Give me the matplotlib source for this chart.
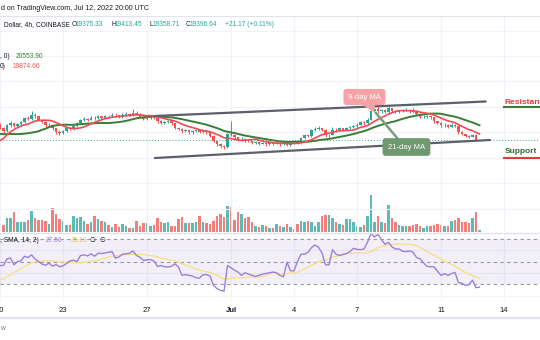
import numpy as np
import pandas as pd
import matplotlib
matplotlib.use("Agg")
import matplotlib.pyplot as plt
import matplotlib.dates as mdates
from matplotlib.patches import Polygon

plt.rcParams['font.family'] = ['Liberation Sans', 'DejaVu Sans']

W, H = 540, 340
UP = '#26a69a'
DOWN = '#ef5350'
GRID = '#f0f3fa'
TEXT = '#131722'

# BTC/USD 4h candles, Jun 19 16:00 .. Jul 12 20:00 (open = previous close)
first_open = 19950
closes = [
    20200, 20550, 20350, 20100, 20550, 20700, 20500, 20650, 20800, 21100,
    21050, 21400, 21250, 20950, 20800, 20550, 20600, 20300, 20050, 19950,
    20100, 20300, 20250, 20500, 20700, 20950, 21050, 21000, 21150, 21100,
    21250, 21150, 21300, 21250, 21400, 21350, 21200, 21400, 21450, 21350,
    21550, 21450, 21200, 21050, 21100, 21300, 21150, 20850, 20750, 20800,
    20900, 20700, 20350, 20250, 20100, 20150, 20000, 20100, 20150, 20050,
    20100, 20000, 19700, 19300, 19100, 18900, 18850, 19850, 19750, 19600,
    19450, 19500, 19350, 19300, 19150, 19200, 19100, 19150, 19050, 19200,
    19100, 19150, 19050, 19200, 19000, 19150, 19200, 19150, 19550, 19750,
    19700, 20150, 20250, 20300, 20200, 19750, 19800, 20200, 20150, 20300,
    20200, 20350, 20400, 20500, 20600, 20800, 20700, 21000, 21700, 21800,
    21650, 21750, 21600, 21900, 21700, 21600, 21650, 21700, 21750, 21650,
    21600, 21450, 21200, 21230, 21250, 21180, 20850, 20750, 20550, 20600,
    20450, 20600, 20500, 20000, 19850, 19700, 19650, 19800, 19375.33, 19396.64,
]
highs = [
    20300, 20650, 20700, 20400, 20650, 20850, 20750, 20750, 20900, 21200,
    21250, 21700, 21500, 21300, 21050, 20850, 20700, 20650, 20350, 20150,
    20200, 20400, 20400, 20600, 20800, 21050, 21200, 21150, 21250, 21300,
    21400, 21300, 21400, 21400, 21500, 21500, 21400, 21500, 21600, 21500,
    21800, 21650, 21500, 21250, 21200, 21400, 21350, 21200, 20950, 20900,
    21000, 20950, 20750, 20450, 20300, 20250, 20200, 20200, 20250, 20200,
    20200, 20150, 20050, 19750, 19350, 19150, 19000, 19950, 20900, 19850,
    19650, 19600, 19550, 19450, 19350, 19300, 19250, 19250, 19200, 19300,
    19250, 19250, 19200, 19300, 19250, 19250, 19300, 19300, 19650, 19850,
    19850, 20250, 20400, 20500, 20350, 20250, 19900, 20450, 20300, 20400,
    20350, 20450, 20500, 20600, 20700, 20900, 20850, 21100, 21850, 21950,
    22500, 21850, 21800, 22050, 21950, 21750, 21750, 21800, 21950, 21800,
    21900, 21650, 21500, 21350, 21350, 21300, 21200, 20900, 20800, 20700,
    20650, 20700, 20650, 20550, 20100, 19900, 19800, 19900, 19850, 19413.45,
]
lows = [
    19900, 20150, 20250, 19950, 20050, 20450, 20400, 20450, 20600, 20750,
    20950, 21000, 21150, 20850, 20700, 20450, 20450, 20200, 19900, 19800,
    19850, 20050, 20150, 20200, 20450, 20650, 20900, 20900, 20950, 21000,
    21050, 21050, 21100, 21150, 21200, 21250, 21100, 21150, 21350, 21250,
    21300, 21350, 21100, 20950, 20950, 21050, 21050, 20750, 20650, 20650,
    20700, 20600, 20250, 20150, 19950, 20000, 19850, 19900, 20000, 19950,
    19950, 19900, 19600, 19200, 18950, 18750, 18650, 18800, 19700, 19450,
    19300, 19350, 19250, 19200, 19050, 19100, 19000, 19050, 18950, 19000,
    19000, 19050, 18950, 19000, 18900, 18950, 19100, 19050, 19100, 19500,
    19600, 19650, 20100, 20150, 20100, 19600, 19650, 19750, 20050, 20100,
    20100, 20150, 20250, 20350, 20450, 20550, 20600, 20650, 20950, 21600,
    21550, 21550, 21500, 21550, 21600, 21500, 21550, 21600, 21650, 21550,
    21500, 21350, 21100, 21100, 21150, 21050, 20750, 20650, 20450, 20450,
    20350, 20400, 20400, 19900, 19750, 19600, 19550, 19600, 19300, 19358.71,
]
# closes before the visible window, needed by the moving averages
warmup_closes = [
    21900, 21200, 20700, 20500, 20400, 20600, 20800, 20500, 20600, 20400,
    20500, 20200, 19600, 18500, 18700, 17900, 18600, 18900, 19300, 19700,
]
volumes = [
    4800, 4000, 6700, 2700, 5300, 5300, 7700, 4000, 4000, 4000,
    4700, 8300, 5300, 4800, 4800, 4400, 3200, 9500, 6900, 5100,
    4400, 2700, 2700, 6100, 5300, 5700, 4400, 3100, 4000, 6400,
    5100, 4400, 3700, 2700, 2000, 3200, 1700, 3200, 2100, 1600,
    1600, 4400, 2100, 3500, 3500, 2100, 2800, 5300, 3700, 3500,
    3700, 2400, 2400, 5100, 5700, 3500, 3500, 3500, 3700, 6100,
    3700, 3500, 3100, 4400, 6100, 7100, 5700, 10100, 9700, 4800,
    8000, 7100, 5300, 5900, 3700, 2100, 1700, 2700, 2100, 1600,
    1600, 3200, 2400, 2000, 3100, 1700, 1100, 3100, 4300, 4000,
    4300, 4000, 2100, 3900, 6100, 6700, 6700, 5300, 4000, 3200,
    2700, 5100, 5100, 4000, 2400, 1900, 2700, 6100, 14800, 4000,
    6100, 4000, 3500, 10800, 5300, 3700, 2700, 2100, 2100, 2100,
    2700, 3200, 2100, 1600, 2400, 2400, 2700, 2900, 2700, 2400,
    2100, 4300, 4500, 5300, 4000, 3700, 3500, 5300, 8000, 500,
]
rsi = [
    44.0, 47.0, 46.6, 46.6, 52.5, 53.1, 47.2, 50.1, 50.7, 54.8,
    53.6, 56.0, 52.5, 50.1, 47.8, 46.9, 48.7, 46.0, 47.5, 45.5,
    46.3, 48.4, 50.7, 51.3, 50.1, 55.4, 56.0, 55.1, 56.9, 54.8,
    57.4, 57.2, 57.7, 58.3, 58.9, 53.1, 54.2, 56.6, 56.9, 57.4,
    59.5, 55.4, 53.9, 51.0, 51.6, 51.9, 50.4, 45.8, 46.6, 45.5,
    45.2, 46.0, 48.1, 45.2, 37.9, 38.5, 37.9, 37.3, 35.8, 35.5,
    38.5, 38.5, 37.3, 29.1, 26.2, 24.7, 23.9, 46.6, 44.6, 42.5,
    40.8, 37.9, 40.2, 39.0, 37.9, 37.0, 37.9, 39.0, 39.6, 40.2,
    40.8, 40.2, 37.9, 36.7, 49.6, 41.9, 41.9, 50.1, 56.6, 56.6,
    58.3, 62.4, 64.7, 62.7, 57.7, 47.2, 47.2, 60.6, 56.6, 55.4,
    56.3, 57.2, 58.9, 61.8, 60.9, 60.6, 61.2, 67.1, 74.7, 71.8,
    74.1, 69.4, 65.3, 67.1, 63.0, 61.2, 61.2, 59.2, 58.9, 59.5,
    58.3, 53.7, 52.5, 49.0, 45.8, 45.5, 45.5, 41.5, 37.9, 39.5,
    37.9, 39.5, 40.5, 31.5, 30.9, 29.1, 29.7, 33.7, 27.0, 27.56,
]
warmup_rsi = [38, 35, 29, 24, 22, 27, 25, 29, 32, 35, 39, 42]

# trend channel and labels drawn on the chart (time, price)
upper_channel = [("2022-06-27 09:00", 21283), ("2022-07-13 03:00", 22424)]
lower_channel = [("2022-06-27 09:00", 17977), ("2022-07-13 08:00", 19394)]
ma9_label = ("2022-07-07 08:30", 22778)
ma9_tail = [("2022-07-07 05:40", 22148), ("2022-07-07 20:30", 22148), ("2022-07-07 19:30", 21598)]
ma21_label = ("2022-07-09 08:30", 18843)
ma21_tail = [("2022-07-08 22:50", 19473), ("2022-07-07 21:40", 21519)]
resistance = ("2022-07-14 01:00", 22306, 21991)
support = ("2022-07-14 01:00", 18528, 17977)

day_ticks = ["2022-06-20", "2022-06-23", "2022-06-27", "2022-07-01",
             "2022-07-04", "2022-07-07", "2022-07-11", "2022-07-14"]
day_labels = ["20", "23", "27", "Jul", "4", "7", "11", "14"]

times = pd.date_range("2022-06-19 16:00", periods=len(closes), freq="4h")
x = mdates.date2num(times)
opens = np.array([first_open] + closes[:-1])
closes_a = np.array(closes)
all_closes = pd.Series(warmup_closes + closes)
ma9 = all_closes.rolling(9).mean().values[len(warmup_closes):]
ma21 = all_closes.rolling(21).mean().values[len(warmup_closes):]
rsi_sma = pd.Series(warmup_rsi + rsi).rolling(14).mean().values[len(warmup_rsi):]


def rect(x0, y0, x1, y1):
    return [x0 / W, 1 - y1 / H, (x1 - x0) / W, (y1 - y0) / H]


def tnum(s):
    return mdates.date2num(pd.Timestamp(s))


fig = plt.figure(figsize=(W / 100, H / 100), dpi=100)
fig.patch.set_facecolor('white')

x0 = tnum("2022-06-20")
xlim = (x0, x0 + W / 21)
price_per_px = 78.7
price_lim = (20000 - (232 - 132.3) * price_per_px, 20000 + (132.3 - 16) * price_per_px)
rsi_lim = (70 - (301 - 239) / 1.133, 70 + (239 - 233) / 1.133)

ax = fig.add_axes(rect(0, 16, W, 232))
axv = fig.add_axes(rect(0, 160, W, 231.5), sharex=ax)
axr = fig.add_axes(rect(0, 233, W, 301), sharex=ax)

for a in (ax, axv, axr):
    for s in a.spines.values():
        s.set_visible(False)
    a.tick_params(length=0, labelleft=False, labelbottom=False)
axv.patch.set_alpha(0)
axv.set_yticks([])
axv.set_zorder(ax.get_zorder() - 1)
ax.patch.set_alpha(0)

tick_x = [tnum(d) for d in day_ticks]
for a in (ax, axr):
    a.set_xticks(tick_x)
    a.grid(axis='x', color=GRID, lw=0.8)
ax.set_yticks(np.arange(14000, 29001, 2000))
ax.grid(axis='y', color=GRID, lw=0.8)
axr.set_yticks([20, 40, 60])
axr.grid(axis='y', color=GRID, lw=0.8)
ax.set_axisbelow(True)
axr.set_axisbelow(True)

# volume
up = closes_a >= opens
vcol = np.where(up, UP, DOWN)
axv.bar(x, volumes, width=0.13, color=vcol, alpha=0.75, lw=0)

# candles
ccol = np.where(up, UP, DOWN)
ax.vlines(x, lows, highs, colors=ccol, lw=0.7, zorder=3)
body_lo = np.minimum(opens, closes_a)
body_h = np.maximum(np.abs(closes_a - opens), 30)
ax.bar(x, body_h, bottom=body_lo, width=0.125, color=ccol, lw=0, zorder=4)

ax.plot(x, ma21, color='#3b7d35', lw=1.4, zorder=5)
ax.plot(x, ma9, color='#f04b55', lw=1.2, zorder=5)
ax.axhline(closes[-1], color=UP, lw=0.7, ls=(0, (1, 2)), zorder=2)

for line in (upper_channel, lower_channel):
    ax.plot([tnum(t) for t, _ in line], [p for _, p in line], color='#5d606b',
            lw=1.6, solid_capstyle='round', zorder=6)

ax.add_patch(Polygon([(tnum(t), p) for t, p in ma9_tail], closed=True,
                     fc='#f5a3a6', ec='none', zorder=7))
ax.text(tnum(ma9_label[0]), ma9_label[1], "9-day MA", ha='center', va='center',
        color='white', fontsize=5.5, zorder=8,
        bbox=dict(boxstyle='round,pad=0.6,rounding_size=0.4', fc='#f5a3a6', ec='none'))
ax.plot([tnum(t) for t, _ in ma21_tail], [p for _, p in ma21_tail], color='#7c9c7c',
        lw=1.8, zorder=7)
ax.text(tnum(ma21_label[0]), ma21_label[1], "21-day MA", ha='center', va='center',
        color='white', fontsize=5.5, zorder=8,
        bbox=dict(boxstyle='round,pad=0.7,rounding_size=0.4', fc='#6f9a6f', ec='none'))

rt, rp, ru = resistance
ax.text(tnum(rt), rp, "Resistance", color='#e53935', fontsize=6, fontweight='bold',
        ha='left', va='center', zorder=8)
ax.plot([tnum(rt) - 0.05, xlim[1]], [ru, ru], color='#3b7d35', lw=1.5, zorder=8)
st, sp, su = support
ax.text(tnum(st), sp, "Support", color='#2f6b2f', fontsize=6, fontweight='bold',
        ha='left', va='center', zorder=8)
ax.plot([tnum(st) - 0.05, xlim[1]], [su, su], color='#e53935', lw=1.5, zorder=8)

# RSI pane
axr.axhspan(30, 70, color='#7e57c2', alpha=0.09, lw=0)
for lvl in (30, 50, 70):
    axr.axhline(lvl, color='#9598a1', lw=0.8, ls=(0, (3, 3)))
axr.plot(x, rsi_sma, color='#f7e08a', lw=1.0)
axr.plot(x, rsi, color='#9b7fdc', lw=1.0)

# fix the view after all ticks and marks are in place
ax.set_xlim(xlim)
ax.set_ylim(price_lim)
axv.set_ylim(0, 71.5 * 400)
axr.set_ylim(rsi_lim)

# time axis labels
for tx, lab in zip(tick_x, day_labels):
    fig.text((tx - xlim[0]) / (xlim[1] - xlim[0]), 1 - 310 / H, lab, ha='center', va='center',
             fontsize=5.5, color=TEXT, fontweight='bold' if lab == 'Jul' else 'normal')

# frame lines
fig.add_artist(plt.Line2D([0, 1], [1 - 16 / H] * 2, color='#e0e3eb', lw=0.8))
fig.add_artist(plt.Line2D([0, 1], [1 - 232.5 / H] * 2, color='#e0e3eb', lw=1.0))
fig.add_artist(plt.Line2D([0, 1], [1 - 318 / H] * 2, color='#e0e3eb', lw=1.6))


# header and legends
def ftext(px, py, s, color=TEXT, size=4.8, **kw):
    fig.text(px / W, 1 - py / H, s, color=color, fontsize=size, va='center', ha='left', **kw)


ftext(1, 8, "d on TradingView.com, Jul 12, 2022 20:00 UTC", size=5.0)
ftext(4, 25, "Dollar, 4h, COINBASE")
for px, s, c in [(72, "O", TEXT), (76, "19375.33", UP), (111, "H", TEXT), (115, "19413.45", UP),
                 (149, "L", TEXT), (152.5, "19358.71", UP), (186, "C", TEXT), (190, "19396.64", UP),
                 (225, "+21.17 (+0.11%)", UP)]:
    ftext(px, 25, s, c)
ftext(0, 56, ", 0)")
ftext(16, 56, f"{ma21[-1]:.2f}", '#3b7d35')
ftext(0, 66, "0)")
ftext(13, 66, f"{ma9[-1]:.2f}", DOWN)
ftext(0, 240.5, ", SMA, 14, 2)")
ftext(46, 240.5, f"{rsi[-1]:.2f}", '#9b7fdc')
ftext(71, 240.5, f"{rsi_sma[-1]:.2f}", '#e8c84a')
ftext(90, 240.5, "\u2205", TEXT, family='DejaVu Sans')
ftext(99, 240.5, "\u2205", TEXT, family='DejaVu Sans')
ftext(0, 329, "w", '#787b86')

fig.savefig("out.png", dpi=100)
